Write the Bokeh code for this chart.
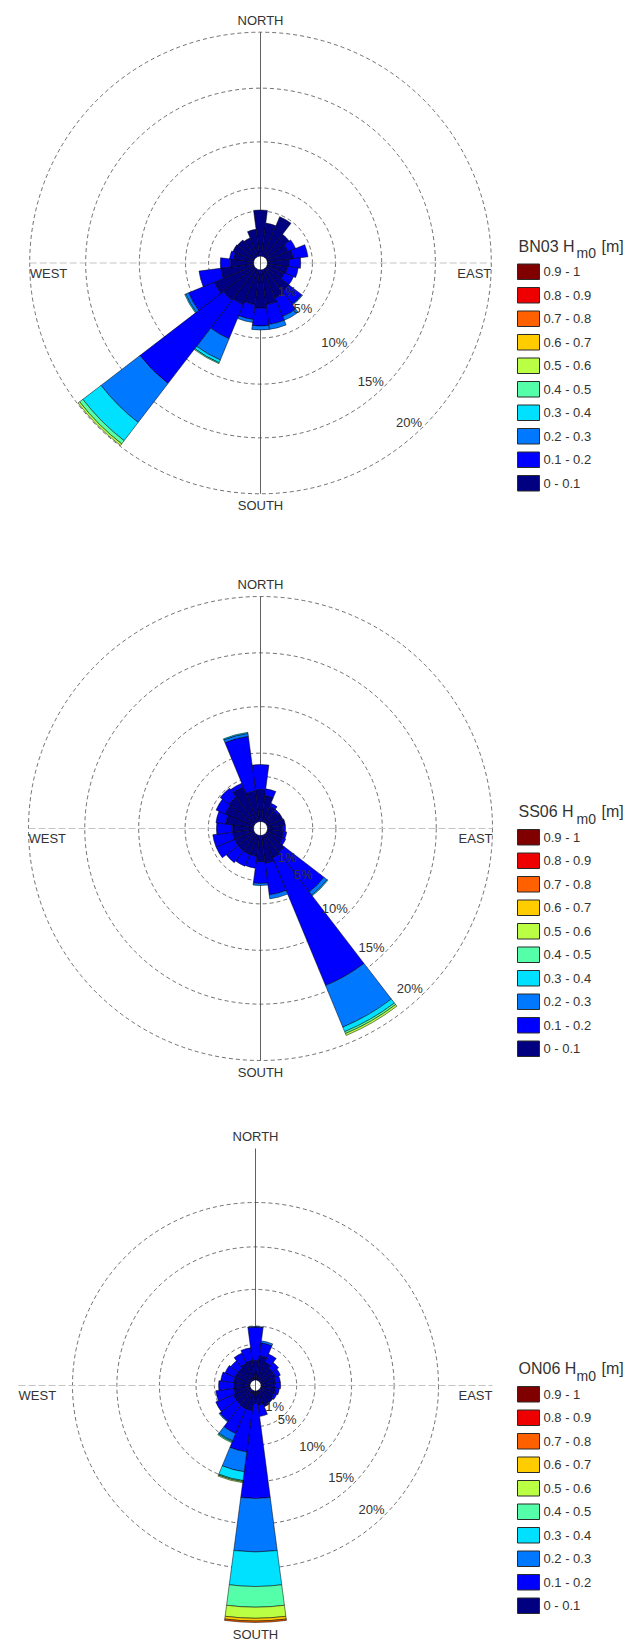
import numpy as np
from bokeh.plotting import figure
from bokeh.models import Range1d, ColumnDataSource
from bokeh.layouts import column
from bokeh.embed import file_html
from bokeh.resources import INLINE
from bokeh.core.properties import value

# ------------------------------------------------------------------ data
DIRECTIONS_DEG = [0, 15, 30, 45, 60, 75, 90, 105, 120, 135, 150, 165,
                  180, 195, 210, 225, 240, 255, 270, 285, 300, 315, 330, 345]
HM0_BINS = ["0 - 0.1", "0.1 - 0.2", "0.2 - 0.3", "0.3 - 0.4", "0.4 - 0.5",
            "0.5 - 0.6", "0.6 - 0.7", "0.7 - 0.8", "0.8 - 0.9", "0.9 - 1"]
HM0_COLORS = ["#000080", "#0000ff", "#0078ff", "#00e1ff", "#55ffaa",
              "#bbff44", "#ffcc00", "#ff6000", "#ee0000", "#800000"]
STATIONS = ["BN03", "SS06", "ON06"]
RING_PCT = [1, 5, 10, 15, 20]
RING_LABELS = ["1%", "5%", "10%", "15%", "20%"]
CARDINALS = ["NORTH", "SOUTH", "EAST", "WEST"]

# frequency of occurrence (%) per direction sector (rows follow DIRECTIONS_DEG),
# split over the Hm0 classes (from 0 - 0.1 upwards)
BN03_FREQ = [
    [1.19], [0.74], [0.96], [0.65], [0.51, 0.18], [0.58, 0.33],
    [0.49, 0.25], [0.45, 0.24], [0.42, 0.22], [0.65, 0.36, 0.18],
    [0.69, 1.36, 0.70], [0.78, 1.97, 0.86], [0.85, 2.07, 0.69],
    [0.78, 1.10, 0.52], [0.85, 4.91, 2.49, 0.32, 0.11],
    [0.89, 11.98, 4.47, 2.05, 0.36, 0.18], [0.96, 4.36, 0.33, 0.11],
    [0.74, 2.01], [0.51, 0.23], [0.45, 0.09], [0.51], [0.49], [0.45], [0.60],
]
SS06_FREQ = [
    [0.71, 2.32], [0.58, 0.15], [0.38, 0.07], [0.33, 0.05], [0.38], [0.40],
    [0.33, 0.07], [0.36, 0.07], [0.38, 0.07], [0.51, 4.99, 0.43, 0.10],
    [0.55, 13.92, 4.02, 0.44, 0.18, 0.18], [0.62, 2.93, 0.69],
    [0.58, 0.90, 0.35], [0.47, 0.26], [0.47, 0.28], [0.47, 0.33],
    [0.47, 0.44], [0.47, 0.44], [0.47, 0.35], [0.62, 0.22], [0.69, 0.22],
    [0.73, 0.24], [0.84, 0.09], [0.69, 6.21, 0.32, 0.11],
]
ON06_FREQ = [
    [0.55, 4.23, 0.12], [0.69, 0.71, 0.44], [0.55, 0.25], [0.46, 0.20],
    [0.46, 0.14], [0.41, 0.14], [0.41, 0.14], [0.41, 0.11], [0.41, 0.08],
    [0.46], [0.49], [0.41, 0.31],
    [0.35, 11.64, 6.15, 3.89, 2.33, 1.25, 0.31, 0.16],
    [0.55, 5.48, 2.73, 1.23, 0.12, 0.12], [0.55, 2.82, 1.70, 0.14, 0.14],
    [0.52, 1.32, 0.21], [0.52, 0.88], [0.46, 0.51], [0.46, 0.42],
    [0.46, 0.37], [0.46, 0.31], [0.46, 0.26], [0.52, 0.31], [0.55, 0.36],
]
FREQS = [BN03_FREQ, SS06_FREQ, ON06_FREQ]

# radial axis of the rose (frequency % -> radius), as drawn in the original
SCALE_PCT = [0, 1, 5, 10, 15, 20]
SCALE_POS = [0.6, 4.5, 6.5, 10.5, 15.15, 20.0]
SCALE_SLOPE_OUT = 0.97

# ------------------------------------------------------------------ layout (px)
PAGE_W = 641
PANEL_TOP = [0, 550, 1110]
PANEL_H = [550, 560, 540]
CENTER_X = [260, 260, 255]
CENTER_Y = [262.5, 828, 1385]
PX_PER_UNIT = [11.54, 11.6, 9.15]
FONT = value("Liberation Sans")
TXT = "#333333"


def radial(f):
    f = np.asarray(f, dtype=float)
    r = np.interp(f, SCALE_PCT, SCALE_POS)
    return np.where(f > SCALE_PCT[-1],
                    SCALE_POS[-1] + (f - SCALE_PCT[-1]) * SCALE_SLOPE_OUT, r)


def build(i):
    s = PX_PER_UNIT[i]
    h = PANEL_H[i]
    fx = CENTER_X[i]
    fy = CENTER_Y[i] - PANEL_TOP[i]
    u = lambda px: px / s

    p = figure(width=PAGE_W, height=h,
               x_range=Range1d(-fx / s, (PAGE_W - fx) / s),
               y_range=Range1d(-(h - fy) / s, fy / s),
               x_axis_type=None, y_axis_type=None,
               toolbar_location=None, output_backend="svg",
               min_border=0, outline_line_color=None)
    p.background_fill_color = "white"
    p.border_fill_color = "white"

    freq = FREQS[i]
    totals = [sum(row) for row in freq]
    R = float(radial(max(RING_PCT[-1], max(totals))))

    # grid rings
    ring_r = radial(RING_PCT)
    p.circle(x=[0] * len(RING_PCT), y=[0] * len(RING_PCT), radius=ring_r,
             fill_color=None, line_color="#4d4d4d", line_width=0.8,
             line_dash="4 3")
    # axes
    p.segment(x0=[-R], y0=[0], x1=[R], y1=[0], line_color="#c4c4c4",
              line_width=1.2, line_dash="7 3")
    p.segment(x0=[0], y0=[-R], x1=[0], y1=[R], line_color="#3a3a3a",
              line_width=0.8)

    # bars
    half = np.deg2rad(7.5)
    inner, outer, start, end, color = [], [], [], [], []
    for d, row in zip(DIRECTIONS_DEG, freq):
        phi = np.deg2rad(90 - d)
        cum = 0.0
        for k, v in enumerate(row):
            if v <= 0:
                continue
            inner.append(float(radial(cum)))
            cum += v
            outer.append(float(radial(cum)))
            start.append(phi - half)
            end.append(phi + half)
            color.append(HM0_COLORS[k])
    src = ColumnDataSource(dict(inner=inner, outer=outer, start=start,
                                end=end, color=color))
    p.annular_wedge(x=0, y=0, inner_radius="inner", outer_radius="outer",
                    start_angle="start", end_angle="end", fill_color="color",
                    line_color="black", line_width=0.5, source=src)

    # ring labels along the SE radial
    a = np.deg2rad(137)
    lr = ring_r - u(13)
    p.text(x=list(lr * np.sin(a)), y=list(lr * np.cos(a)), text=RING_LABELS,
           text_font=FONT, text_font_size="13px", text_color=TXT,
           text_align="center", text_baseline="middle")

    # cardinal labels
    p.text(x=[0, 0], y=[R + u(12), -R - u(12)], text=CARDINALS[:2],
           text_font=FONT, text_font_size="13px", text_color=TXT,
           text_align="center", text_baseline="middle")
    p.text(x=[R], y=[-u(10)], text=[CARDINALS[2]], text_font=FONT,
           text_font_size="13px", text_color=TXT, text_align="right",
           text_baseline="middle")
    p.text(x=[-R], y=[-u(10)], text=[CARDINALS[3]], text_font=FONT,
           text_font_size="13px", text_color=TXT, text_align="left",
           text_baseline="middle")

    # legend (boxes top-down from the highest class)
    cx = CENTER_X[i]
    n = len(HM0_BINS)
    order = list(range(n))[::-1]
    ys = [-u(1 + 7.75 + 23.5 * j) for j in range(n)]
    p.rect(x=[u(517 + 11 - cx)] * n, y=ys, width=22, height=15.5,
           width_units="screen", height_units="screen",
           fill_color=[HM0_COLORS[k] for k in order], line_color="#2a2a2a",
           line_width=1)
    p.text(x=[u(543 - cx)] * n, y=ys, text=[HM0_BINS[k] for k in order],
           text_font=FONT, text_font_size="13px", text_color=TXT,
           text_align="left", text_baseline="middle")
    tx = 518 - cx
    p.text(x=[u(tx)], y=[u(17)], text=[STATIONS[i] + " H"], text_font=FONT,
           text_font_size="16px", text_color=TXT, text_align="left",
           text_baseline="alphabetic")
    p.text(x=[u(tx + 58)], y=[u(10)], text=["m0"], text_font=FONT,
           text_font_size="14px", text_color=TXT, text_align="left",
           text_baseline="alphabetic")
    p.text(x=[u(tx + 83)], y=[u(17)], text=["[m]"], text_font=FONT,
           text_font_size="16px", text_color=TXT, text_align="left",
           text_baseline="alphabetic")
    return p


layout = column(*[build(i) for i in range(3)], spacing=0)
open("out.html", "w").write(file_html(layout, INLINE))
